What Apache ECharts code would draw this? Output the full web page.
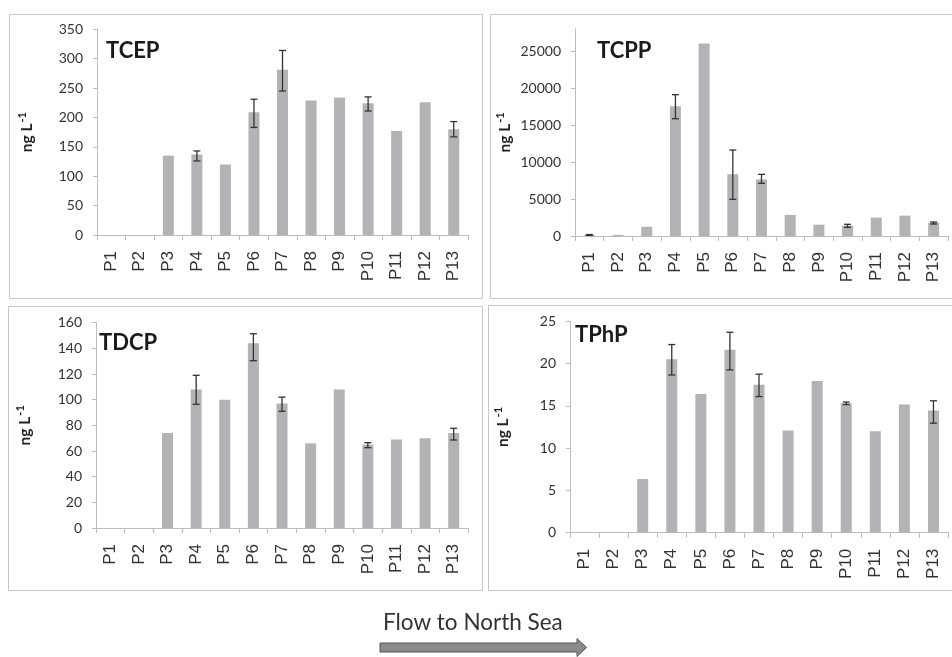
<!DOCTYPE html>
<html>
<head>
<meta charset="utf-8">
<script src="https://cdn.jsdelivr.net/npm/echarts@6/dist/echarts.min.js"></script>
<style>html,body{margin:0;padding:0;background:#fff;}#c{width:952px;height:657px;}</style>
</head>
<body>
<div id="c"></div>
<script>
const categories = ['P1','P2','P3','P4','P5','P6','P7','P8','P9','P10','P11','P12','P13'];

const tcep     = [0, 0, 135, 137, 120, 209, 281, 229, 234, 224, 177, 226, 180];
const tcepLow  = [null, null, null, 126, null, 183, 245, null, null, 211, null, null, 167];
const tcepHigh = [null, null, null, 143, null, 231, 314, null, null, 235, null, null, 193];

const tcpp     = [150, 150, 1250, 17550, 26000, 8350, 7650, 2850, 1530, 1400, 2480, 2750, 1800];
const tcppLow  = [80, null, null, 15850, null, 4950, 7120, null, null, 1170, null, null, 1620];
const tcppHigh = [200, null, null, 19100, null, 11620, 8330, null, null, 1580, null, null, 1890];

const tdcp     = [0, 0, 74, 108, 100, 144, 97, 66, 108, 65, 69, 70, 74];
const tdcpLow  = [null, null, null, 96.4, null, 130.4, 91, null, null, 62.6, null, null, 68.6];
const tdcpHigh = [null, null, null, 119, null, 151.4, 102, null, null, 66.5, null, null, 77.7];

const tphp     = [0, 0, 6.35, 20.5, 16.4, 21.65, 17.5, 12.1, 17.95, 15.3, 12, 15.15, 14.45];
const tphpLow  = [null, null, null, 18.65, null, 19.25, 16.1, null, null, 15.15, null, null, 12.95];
const tphpHigh = [null, null, null, 22.25, null, 23.7, 18.75, null, null, 15.45, null, null, 15.6];

const panelTitles = ['TCEP', 'TCPP', 'TDCP', 'TPhP'];
const yMax = [350, 28000, 160, 25];
const yInterval = [50, 5000, 20, 5];
const tcppTicks = [0, 5000, 10000, 15000, 20000, 25000];
const flowLabel = 'Flow to North Sea';

const values = [tcep, tcpp, tdcp, tphp];
const lows = [tcepLow, tcppLow, tdcpLow, tphpLow];
const highs = [tcepHigh, tcppHigh, tdcpHigh, tphpHigh];

const grids = [
  {left: 97, right: 484, top: 29.3, bottom: 422},
  {left: 575, right: 4, top: 28.8, bottom: 421},
  {left: 96, right: 484, top: 322.7, bottom: 129},
  {left: 570, right: 4, top: 321.3, bottom: 124.3}
];
const nameGaps = [60, 60, 61, 57];
const titlePos = [[106, 40], [597, 40], [99, 332], [575, 324]];

const axisColor = '#bdbdbd';
const barColor = '#b3b3b6';
const labelColor = '#333333';

function errItem(params, api) {
  const i = api.value(0);
  const pLo = api.coord([i, api.value(1)]);
  const pHi = api.coord([i, api.value(2)]);
  const w = 3.5;
  const st = {stroke: '#333', lineWidth: 1.3};
  return {
    type: 'group',
    children: [
      {type: 'line', shape: {x1: pLo[0], y1: pLo[1], x2: pHi[0], y2: pHi[1]}, style: st},
      {type: 'line', shape: {x1: pHi[0]-w, y1: pHi[1], x2: pHi[0]+w, y2: pHi[1]}, style: st},
      {type: 'line', shape: {x1: pLo[0]-w, y1: pLo[1], x2: pLo[0]+w, y2: pLo[1]}, style: st}
    ]
  };
}

const xAxes = [], yAxes = [], series = [], titles = [];
for (let k = 0; k < 4; k++) {
  xAxes.push({
    type: 'category', gridIndex: k, data: categories,
    axisLine: {lineStyle: {color: axisColor, width: 1}},
    axisTick: {show: true, length: 5, lineStyle: {color: axisColor}},
    axisLabel: {rotate: 90, margin: 16, fontFamily: 'Liberation Sans', fontSize: 17, color: labelColor, interval: 0}
  });
  const ya = {
    type: 'value', gridIndex: k, min: 0, max: yMax[k], interval: yInterval[k],
    name: '{a|ng L}{b|-1}', nameLocation: 'middle', nameRotate: 90, nameGap: nameGaps[k],
    nameTextStyle: {
      rich: {
        a: {fontFamily: 'Lato', fontWeight: 'bold', fontSize: 15.5, color: '#222'},
        b: {fontFamily: 'Lato', fontWeight: 'bold', fontSize: 11, color: '#222', padding: [0, 0, 9, 1]}
      }
    },
    axisLine: {show: true, lineStyle: {color: axisColor, width: 1}},
    axisTick: {show: true, length: 4, lineStyle: {color: axisColor}},
    splitLine: {show: false},
    axisLabel: {margin: 14, fontFamily: 'Lato', fontSize: 14, color: labelColor, formatter: function (v) { return String(v); }}
  };
  if (k === 1) {
    ya.axisLabel.customValues = tcppTicks;
    ya.axisTick.customValues = tcppTicks;
  }
  yAxes.push(ya);
  series.push({
    type: 'bar', xAxisIndex: k, yAxisIndex: k, data: values[k], barWidth: 11,
    itemStyle: {color: barColor}, silent: true
  });
  const ed = [];
  for (let i = 0; i < categories.length; i++) {
    if (lows[k][i] != null) ed.push([i, lows[k][i], highs[k][i]]);
  }
  series.push({
    type: 'custom', xAxisIndex: k, yAxisIndex: k, data: ed,
    encode: {x: 0, y: [1, 2]}, renderItem: errItem, silent: true, z: 5
  });
  titles.push({
    text: panelTitles[k], left: titlePos[k][0], top: titlePos[k][1], padding: 0,
    textStyle: {fontFamily: 'Lato', fontWeight: 'bold', fontSize: 22, color: '#1a1a1a'}
  });
}

const borderStyle = {fill: 'none', stroke: '#c6c6c6', lineWidth: 1};
const graphics = [
  {type: 'rect', shape: {x: 9.5, y: 14.5, width: 473, height: 284}, style: borderStyle, silent: true},
  {type: 'rect', shape: {x: 490.5, y: 14.5, width: 470, height: 284}, style: borderStyle, silent: true},
  {type: 'rect', shape: {x: 8.5, y: 306.5, width: 474, height: 284}, style: borderStyle, silent: true},
  {type: 'rect', shape: {x: 488.5, y: 305.5, width: 470, height: 285}, style: borderStyle, silent: true},
  {type: 'text', style: {text: flowLabel, x: 383, y: 634, fontFamily: 'Lato', fontSize: 22.5, fill: '#333', verticalAlign: 'bottom'}, silent: true},
  {type: 'polygon', shape: {points: [[380, 643], [577, 643], [577, 638.5], [586.5, 647.5], [577, 656.5], [577, 652], [380, 652]]},
   style: {fill: '#8a8a8c', stroke: '#555', lineWidth: 1}, silent: true}
];

const chart = echarts.init(document.getElementById('c'), null, {renderer: 'canvas'});
chart.setOption({
  animation: false,
  backgroundColor: '#ffffff',
  title: titles,
  grid: grids,
  xAxis: xAxes,
  yAxis: yAxes,
  series: series,
  graphic: graphics
});
</script>
</body>
</html>
